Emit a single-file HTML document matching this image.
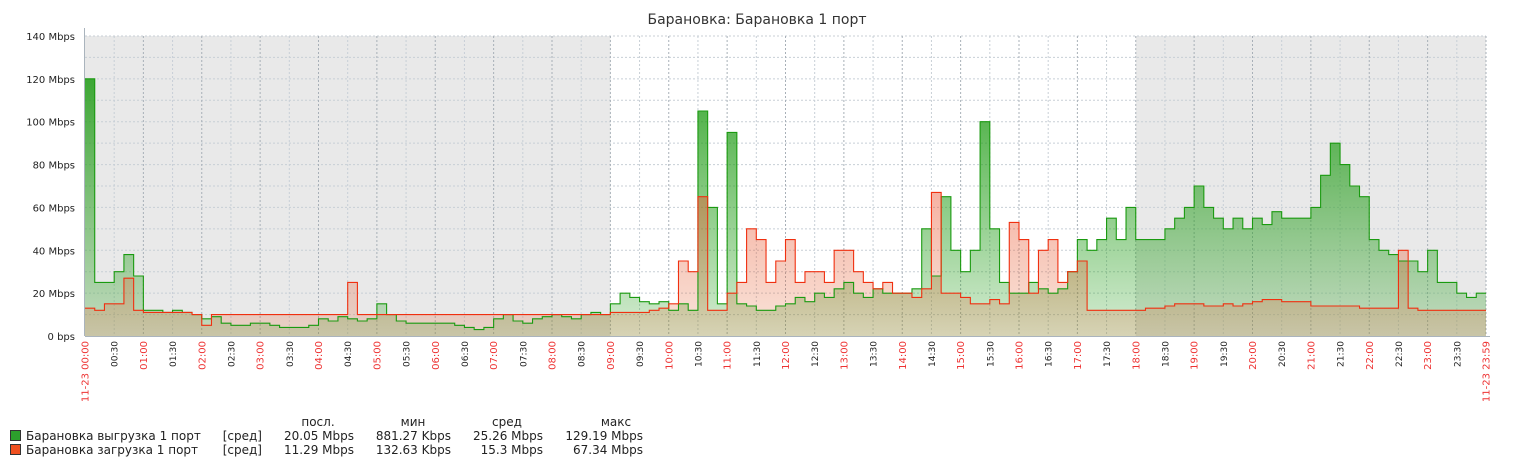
<!DOCTYPE html>
<html><head><meta charset="utf-8"><style>
body{margin:0;background:#fff;width:1516px;height:468px;overflow:hidden}
svg{display:block;font-family:"DejaVu Sans","Liberation Sans",sans-serif}
</style></head><body>
<svg id="chart" width="1516" height="468">
<defs>
<linearGradient id="gg" gradientUnits="userSpaceOnUse" x1="0" y1="36" x2="0" y2="336">
<stop offset="0" stop-color="#1a9a10" stop-opacity="0.95"/><stop offset="1" stop-color="#2aa020" stop-opacity="0.2"/></linearGradient>
<linearGradient id="rg" gradientUnits="userSpaceOnUse" x1="0" y1="150" x2="0" y2="336">
<stop offset="0" stop-color="#f04020" stop-opacity="0.5"/><stop offset="1" stop-color="#e07040" stop-opacity="0.2"/></linearGradient>
</defs>
<text x="757" y="24" text-anchor="middle" font-size="14" fill="#333">Барановка: Барановка 1 порт</text>
<g id="plot"></g>
<g id="legend" font-size="12" fill="#222">
<text x="318" y="426" text-anchor="middle">посл.</text>
<text x="413" y="426" text-anchor="middle">мин</text>
<text x="507" y="426" text-anchor="middle">сред</text>
<text x="616" y="426" text-anchor="middle">макс</text>
<g>
<rect x="10.5" y="430.5" width="10" height="10" fill="#2ca02c" stroke="#333"/>
<text x="26" y="440">Барановка выгрузка 1 порт</text>
<text x="262" y="440" text-anchor="end">[сред]</text>
<text x="354" y="440" text-anchor="end">20.05 Mbps</text>
<text x="451" y="440" text-anchor="end">881.27 Kbps</text>
<text x="543" y="440" text-anchor="end">25.26 Mbps</text>
<text x="643" y="440" text-anchor="end">129.19 Mbps</text>
</g>
<g>
<rect x="10.5" y="444.5" width="10" height="10" fill="#f05020" stroke="#333"/>
<text x="26" y="454">Барановка загрузка 1 порт</text>
<text x="262" y="454" text-anchor="end">[сред]</text>
<text x="354" y="454" text-anchor="end">11.29 Mbps</text>
<text x="451" y="454" text-anchor="end">132.63 Kbps</text>
<text x="543" y="454" text-anchor="end">15.3 Mbps</text>
<text x="643" y="454" text-anchor="end">67.34 Mbps</text>
</g>
</g>
</svg>
<script>
// 10-minute buckets, Mbps
const upload = [
120,25,25,30,38,28, 12,12,11,12,11,10, 8,9,6,5,5,6, 6,5,4,4,4,5,
8,7,9,8,7,8, 15,10,7,6,6,6, 6,6,5,4,3,4, 8,10,7,6,8,9,
10,9,8,10,11,10, 15,20,18,16,15,16, 12,15,12,105,60,15, 95,15,14,12,12,14,
15,18,16,20,18,22, 25,20,18,22,20,20, 20,22,50,28,65,40, 30,40,100,50,25,20,
20,25,22,20,22,30, 45,40,45,55,45,60, 45,45,45,50,55,60, 70,60,55,50,55,50,
55,52,58,55,55,55, 60,75,90,80,70,65, 45,40,38,35,35,30, 40,25,25,20,18,20];
const download = [
13,12,15,15,27,12, 11,11,11,11,11,10, 5,10,10,10,10,10, 10,10,10,10,10,10,
10,10,10,25,10,10, 10,10,10,10,10,10, 10,10,10,10,10,10, 10,10,10,10,10,10,
10,10,10,10,10,10, 11,11,11,11,12,13, 15,35,30,65,12,12, 20,25,50,45,25,35,
45,25,30,30,25,40, 40,30,25,22,25,20, 20,18,22,67,20,20, 18,15,15,17,15,53,
45,20,40,45,25,30, 35,12,12,12,12,12, 12,13,13,14,15,15, 15,14,14,15,14,15,
16,17,17,16,16,16, 14,14,14,14,14,13, 13,13,13,40,13,12, 12,12,12,12,12,12];
const yTicks = ["0 bps","20 Mbps","40 Mbps","60 Mbps","80 Mbps","100 Mbps","120 Mbps","140 Mbps"];
const yTickValues = [0,20,40,60,80,100,120,140];

const X0=85,X1=1486,Y0=336,Y1=36,MAX=140,NS='http://www.w3.org/2000/svg';
const xs=m=>X0+(X1-X0)*m/1440, ys=v=>Y0-(Y0-Y1)*v/MAX;
const g=document.getElementById('plot');
function mk(t,a,p){const e=document.createElementNS(NS,t);for(const k in a)e.setAttribute(k,a[k]);(p||g).appendChild(e);return e;}
let bg=mk('rect',{x:X0,y:Y1,width:X1-X0,height:Y0-Y1,fill:'#fff'});


let n1=mk('rect',{x:xs(0),y:Y1,width:xs(540)-xs(0),height:Y0-Y1,fill:'#e9e9e9'});


let n2=mk('rect',{x:xs(1080),y:Y1,width:xs(1440)-xs(1080),height:Y0-Y1,fill:'#e9e9e9'});


for(let v=10;v<=140;v+=10){const l=mk('line',{x1:X0,x2:X1,y1:ys(v),y2:ys(v),stroke:'#c8cfd6','stroke-dasharray':'2,2'});

}
for(let m=30;m<=1440;m+=30){const l=mk('line',{x1:xs(m),x2:xs(m),y1:Y1,y2:Y0,stroke:m%60?'#c8cfd6':'#a8b0b8','stroke-dasharray':'2,2'});

}
function pathFor(arr){let d='M'+xs(0)+','+ys(arr[0]);arr.forEach((v,i)=>{const y=ys(v);d+=' L'+xs(i*10)+','+y+' L'+xs((i+1)*10)+','+y;});return d;}
function area(arr,fill,name){const a=mk('path',{d:pathFor(arr)+' L'+xs(1440)+','+Y0+' L'+xs(0)+','+Y0+' Z',fill:fill});

}
function line(arr,col,name){const a=mk('path',{d:pathFor(arr),fill:'none',stroke:col,'stroke-width':1.1});

}
area(upload,'url(#gg)','upload-area');
area(download,'url(#rg)','download-area');
line(upload,'#1a9a10','upload-line');
line(download,'#f03010','download-line');
let ax=mk('line',{x1:X0,x2:X1+4,y1:Y0+.5,y2:Y0+.5,stroke:'#aab4bd'});


let ay=mk('line',{x1:X0-.5,x2:X0-.5,y1:Y1-8,y2:Y0,stroke:'#aab4bd'});


yTickValues.forEach((v,i)=>{const t=mk('text',{x:75,y:ys(v)+4,'text-anchor':'end','font-size':10,fill:'#222'});t.textContent=yTicks[i];

});
for(let m=0;m<=1440;m+=30){let lab,red=m%60===0;
if(m===0)lab='11-23 00:00';else if(m===1440)lab='11-23 23:59';
else lab=String(Math.floor(m/60)).padStart(2,'0')+':'+String(m%60).padStart(2,'0');
const x=xs(m)+3.5;const t=mk('text',{x:0,y:0,transform:'translate('+x+',341) rotate(-90)','text-anchor':'end','font-size':red?10:9,fill:red?'#e33':'#222'});t.textContent=lab;

}
</script>
</body></html>
